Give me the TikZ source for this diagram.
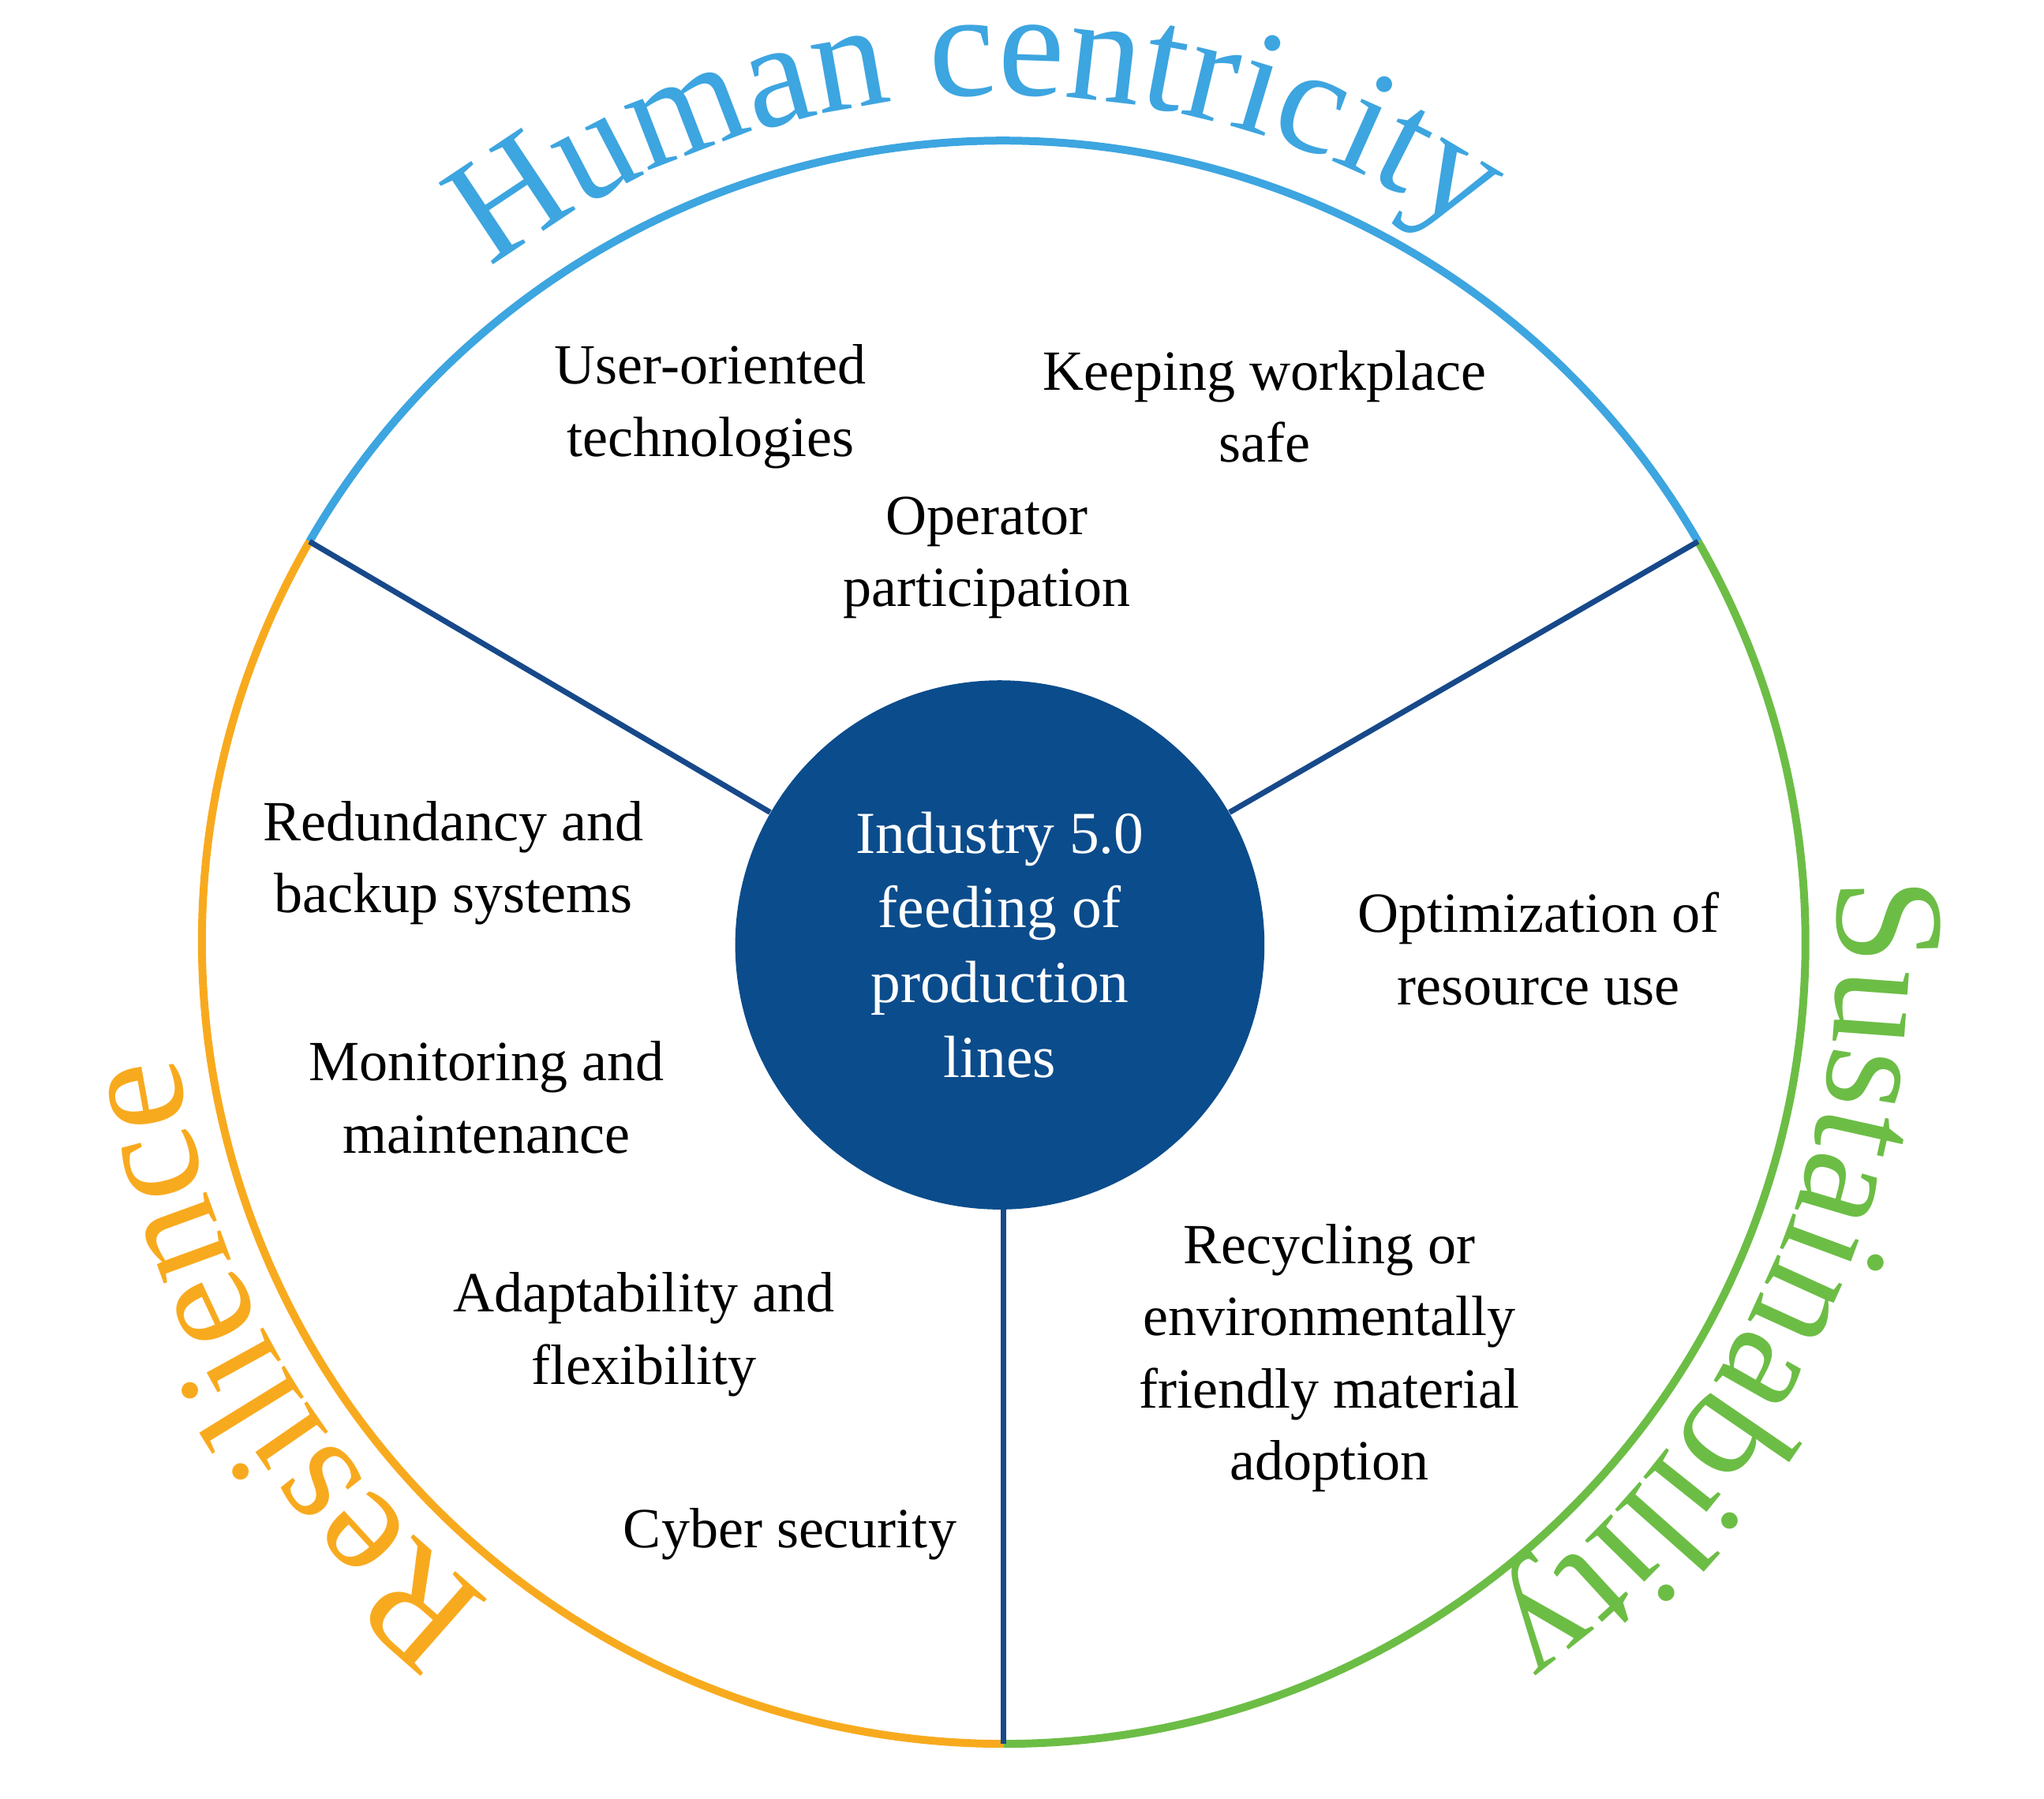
\documentclass[tikz,border=0pt]{standalone}
\usepackage{fontspec}
\setmainfont{Liberation Serif}
\usetikzlibrary{decorations.text}
\definecolor{hblue}{HTML}{3DA5E0}
\definecolor{rorange}{HTML}{F8AA1E}
\definecolor{sgreen}{HTML}{6CBD45}
\definecolor{hub}{HTML}{0B4C8C}
\definecolor{divc}{HTML}{17498A}
\begin{document}
\begin{tikzpicture}[x=0.01652cm,y=0.01652cm,
  lbl/.style={align=center,font=\fontsize{20.5}{26}\selectfont},
  ring/.style={line width=0.1cm},
  div/.style={draw=divc,line width=0.07cm},
  curv/.style={decorate,decoration={text along path,text align=center,text format delimiters={|}{|}}}]
\useasboundingbox (-770,-657) rectangle (798,723);
\node[circle,fill=hub,minimum size=406*0.01652cm,inner sep=0pt,text=white,align=center,font=\fontsize{21.5}{27}\selectfont] (hubn) at (-3,-2) {Industry 5.0\\feeding of\\production\\lines};
\coordinate (pL) at (150:615);
\coordinate (pR) at (30:615);
\coordinate (pB) at (270:615);
\coordinate (hB) at (0,-205);
\draw[ring,hblue] (pR) arc[start angle=30,end angle=150,radius=615];
\draw[ring,rorange] (pL) arc[start angle=150,end angle=270,radius=615];
\draw[ring,sgreen] (pB) arc[start angle=270,end angle=390,radius=615];
\draw[div] (hubn.150) -- (pL);
\draw[div] (hubn.30) -- (pR);
\draw[div] (hB) -- (pB);
\path[curv,decoration={text={|\fontsize{54}{54}\selectfont\color{hblue}|Human centricity}}] (172:650) arc[start angle=172,end angle=12,radius=650];
\path[curv,decoration={text={|\fontsize{56}{56}\selectfont\color{sgreen}|Sustainability}}] (60:640) arc[start angle=60,end angle=-110,radius=640];
\path[curv,decoration={text={|\fontsize{56}{56}\selectfont\color{rorange}|Resilience}}] (-60:640) arc[start angle=-60,end angle=-240,radius=640];
\node[lbl] (t1) at (-225,411) {User-oriented\\technologies};
\node[lbl] (t2) at (200,411) {Keeping workplace\\safe};
\node[lbl] (t3) at (-13,295) {Operator\\participation};
\node[lbl] (t4) at (-422,61) {Redundancy and\\backup systems};
\node[lbl] (t5) at (-397,-119) {Monitoring and\\maintenance};
\node[lbl] (t6) at (-276,-301) {Adaptability and\\flexibility};
\node[lbl] (t7) at (-164,-454) {Cyber security};
\node[lbl] (t8) at (410,-5) {Optimization of\\resource use};
\node[lbl] (t9) at (250,-319) {Recycling or\\environmentally\\friendly material\\adoption};
\end{tikzpicture}
\end{document}
